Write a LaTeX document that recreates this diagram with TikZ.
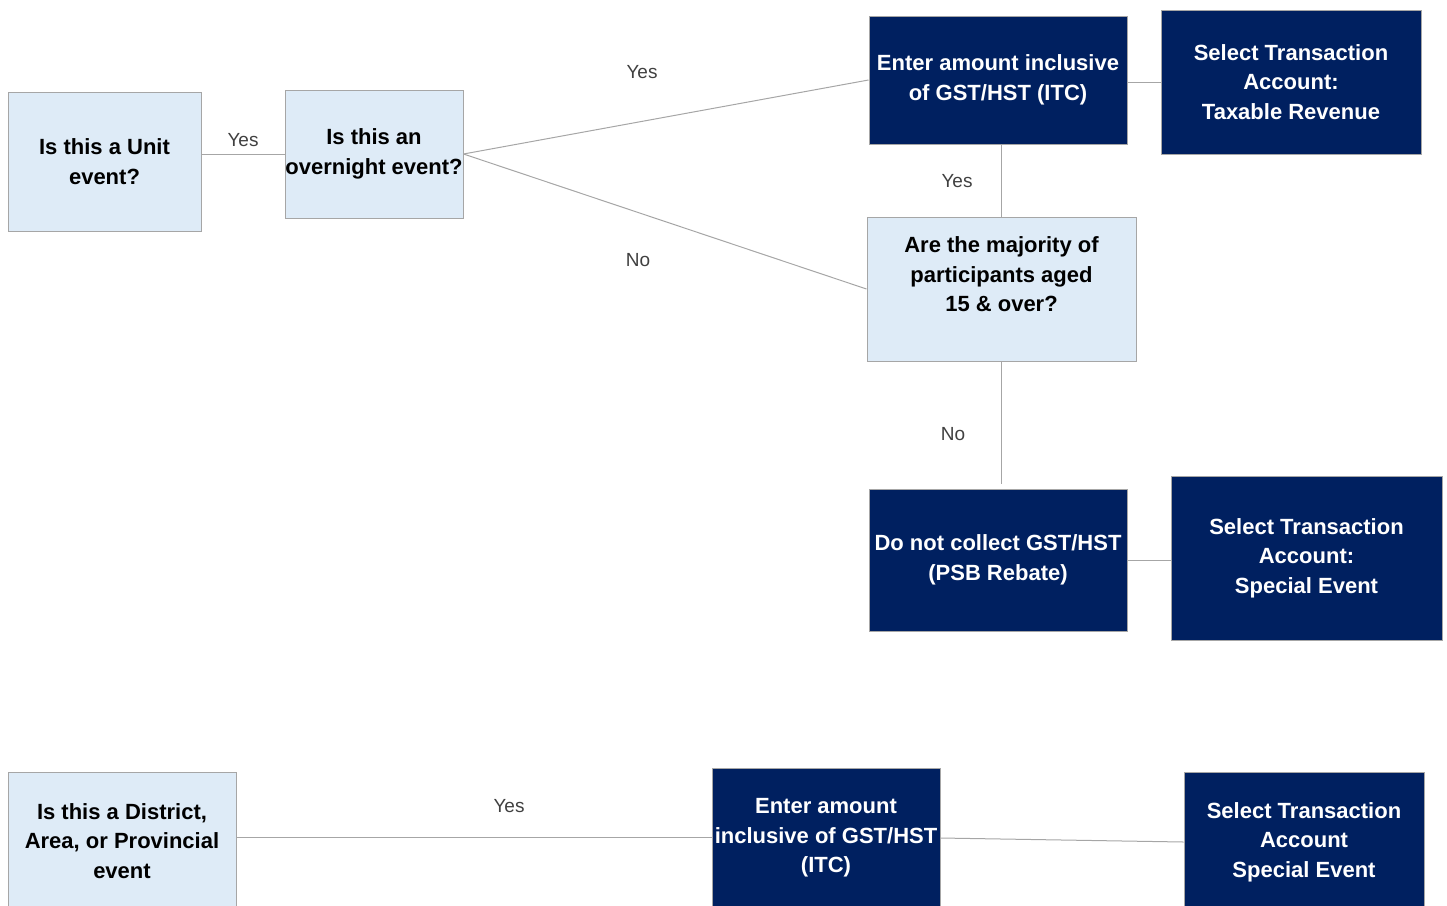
\documentclass[tikz,border=0pt]{standalone}
\usepackage{fontspec}
\setmainfont{Liberation Sans}
\usepackage{xcolor}
\definecolor{CNavy}{HTML}{002060}
\definecolor{CIce}{HTML}{DEEBF7}
\definecolor{CEdge}{HTML}{A6A6A6}
\definecolor{CLabel}{HTML}{404040}
\usetikzlibrary{positioning}
\tikzstyle{questionNode}=[rectangle, draw=CEdge, fill=CIce, line width=1pt, inner sep=0pt,
  align=center, text=black, font=\bfseries\fontsize{22}{29.5}\selectfont]
\tikzstyle{actionNode}=[rectangle, draw=CEdge, fill=CNavy, line width=1pt, inner sep=0pt,
  align=center, text=white, font=\bfseries\fontsize{22}{29.5}\selectfont]
\tikzstyle{lbl}=[inner sep=0pt, text=CLabel, font=\fontsize{19}{22}\selectfont]
\tikzstyle{link}=[draw=CEdge, line width=1pt]

\begin{document}
\begin{tikzpicture}[x=1pt, y=-1pt]
\useasboundingbox (0,0) rectangle (1447,905);
\clip (0,0) rectangle (1447,905);
% upper flow
\node[questionNode, minimum width=193pt, minimum height=139pt] (unit) at (104.5,161.5) {Is this a Unit\\event?};
\node[questionNode, minimum width=178pt, minimum height=128pt] (overnight) at (374,154) {Is this an\\overnight event?};
\node[actionNode, minimum width=258pt, minimum height=128pt] (enterA) at (998,80) {Enter amount inclusive\\of GST/HST (ITC)};
\node[actionNode, minimum width=260pt, minimum height=144pt] (taxable) at (1291,82) {Select Transaction\\Account:\\Taxable Revenue};
\node[questionNode, minimum width=269pt, minimum height=144pt] (majority) at (1001.5,289) {Are the majority of\\participants aged\\15 \& over?\\~};
\node[actionNode, minimum width=258pt, minimum height=142pt] (noGst) at (998,560) {Do not collect GST/HST\\(PSB Rebate)};
\node[actionNode, minimum width=271pt, minimum height=164pt] (specialA) at (1306.5,558) {Select Transaction\\Account:\\Special Event};
% lower flow
\node[questionNode, minimum width=228pt, minimum height=138pt] (district) at (122,841) {Is this a District,\\Area, or Provincial\\event};
\node[actionNode, minimum width=228pt, minimum height=140pt] (enterB) at (826,838) {Enter amount\\inclusive of GST/HST\\(ITC)};
\node[actionNode, minimum width=240pt, minimum height=140pt] (specialB) at (1304,842) {Select Transaction\\Account\\Special Event};

\draw[link] (overnight.west -| unit.east) -- (overnight.west);
\draw[link] (overnight.east) -- (enterA.west);
\draw[link] (overnight.east) -- (majority.west);
\draw[link] (taxable.west -| enterA.east) -- (taxable.west);
\draw[link] (majority.north |- enterA.south) -- (majority.north);
\draw[link] (majority.south) -- ([yshift=5pt]majority.south |- noGst.north);
\draw[link] (noGst.east) -- (noGst.east -| specialA.west);
\draw[link] ([yshift=4pt]district.east) -- ([yshift=4pt]district.east -| enterB.west);
\draw[link] (enterB.east) -- (specialB.west);

\node[lbl] (yesUnit) at (243,140) {Yes};
\node[lbl] (yesNight) at (642,72) {Yes};
\node[lbl] (noNight) at (638,260) {No};
\node[lbl] (yesItc) at (957,181) {Yes};
\node[lbl] (noAge) at (953,434) {No};
\node[lbl] (yesDistrict) at (509,806) {Yes};
\end{tikzpicture}
\end{document}
